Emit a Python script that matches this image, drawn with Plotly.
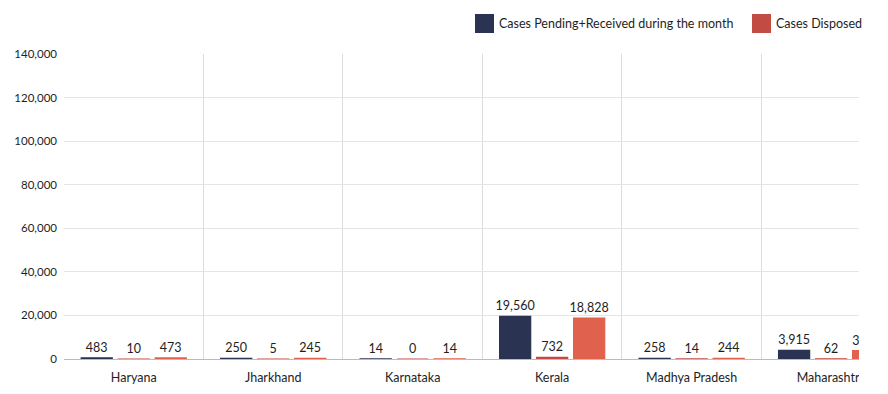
import plotly.graph_objects as go

states = ["Haryana", "Jharkhand", "Karnataka", "Kerala", "Madhya Pradesh", "Maharashtra"]
pending_received = [483, 250, 14, 19560, 258, 3915]
disposed = [10, 5, 0, 732, 14, 62]
pending_end = [473, 245, 14, 18828, 244, 3853]

y_ticks = [0, 20000, 40000, 60000, 80000, 100000, 120000, 140000]

series_names = ["Cases Pending+Received during the month", "Cases Disposed",
                "Cases Pending at the end of the month"]
series_colors = ["#2a3352", "#c24b43", "#e0614d"]

FONT = "Lato"
TXT = "#1e1e1e"

W, H = 880, 386
ML, MR, MT, MB = 56, 29, 46, 35

fig = go.Figure()
for name, vals, col in zip(series_names, [pending_received, disposed, pending_end], series_colors):
    fig.add_trace(go.Bar(
        x=states, y=vals, name=name, marker_color=col,
        marker_line=dict(color=col, width=1.2),
        text=[f"{v:,}" for v in vals], textposition="outside",
        textfont=dict(family=FONT, size=12.5, color=TXT),
        constraintext="none", cliponaxis=True, showlegend=False,
    ))

fig.update_layout(
    width=W, height=H,
    margin=dict(l=ML, r=MR, t=MT, b=MB, autoexpand=False),
    paper_bgcolor="white", plot_bgcolor="white",
    font=dict(family=FONT, size=12, color=TXT),
    barmode="group", bargap=0.204, bargroupgap=0.16,
    showlegend=False,
    xaxis=dict(type="category", range=[-0.5, 5.2], tickson="boundaries",
               automargin=False,
               showgrid=True, gridcolor="#dcdcdc", gridwidth=1,
               showline=True, linecolor="#bbbbbb", ticks="", ticklen=0,
               ticklabelstandoff=7,
               tickfont=dict(family=FONT, size=12.5, color=TXT)),
    yaxis=dict(range=[0, 140000], tickvals=y_ticks, tickformat=",",
               automargin=False,
               showgrid=True, gridcolor="#e4e4e4", gridwidth=1,
               zeroline=False, ticks="", ticklen=0, ticklabelstandoff=6,
               tickfont=dict(family=FONT, size=11.5, color=TXT)),
)

# clip region right of the visible plot
fig.add_shape(type="rect", xref="paper", yref="paper", x0=1.0, x1=1.2, y0=-0.2, y1=0.2,
              fillcolor="white", line_width=0, layer="above")

# custom legend (large swatches), positioned in pixels relative to the page
pw = W - ML - MR
ph = H - MT - MB
def px_x(x):
    return (x - 8 - ML) / pw
def px_y(y):
    return 1 - (y - 8 - MT) / ph

legend_items = [(series_names[0], series_colors[0], 475), (series_names[1], series_colors[1], 752)]
for name, col, x0 in legend_items:
    fig.add_shape(type="rect", xref="paper", yref="paper",
                  x0=px_x(x0), x1=px_x(x0 + 19), y0=px_y(33), y1=px_y(14),
                  fillcolor=col, line_width=0, layer="above")
    fig.add_annotation(xref="paper", yref="paper", x=px_x(x0 + 22), y=px_y(23.5),
                       xanchor="left", yanchor="middle", showarrow=False, text=name,
                       font=dict(family=FONT, size=12.5, color=TXT))

fig.write_html("out.html")
